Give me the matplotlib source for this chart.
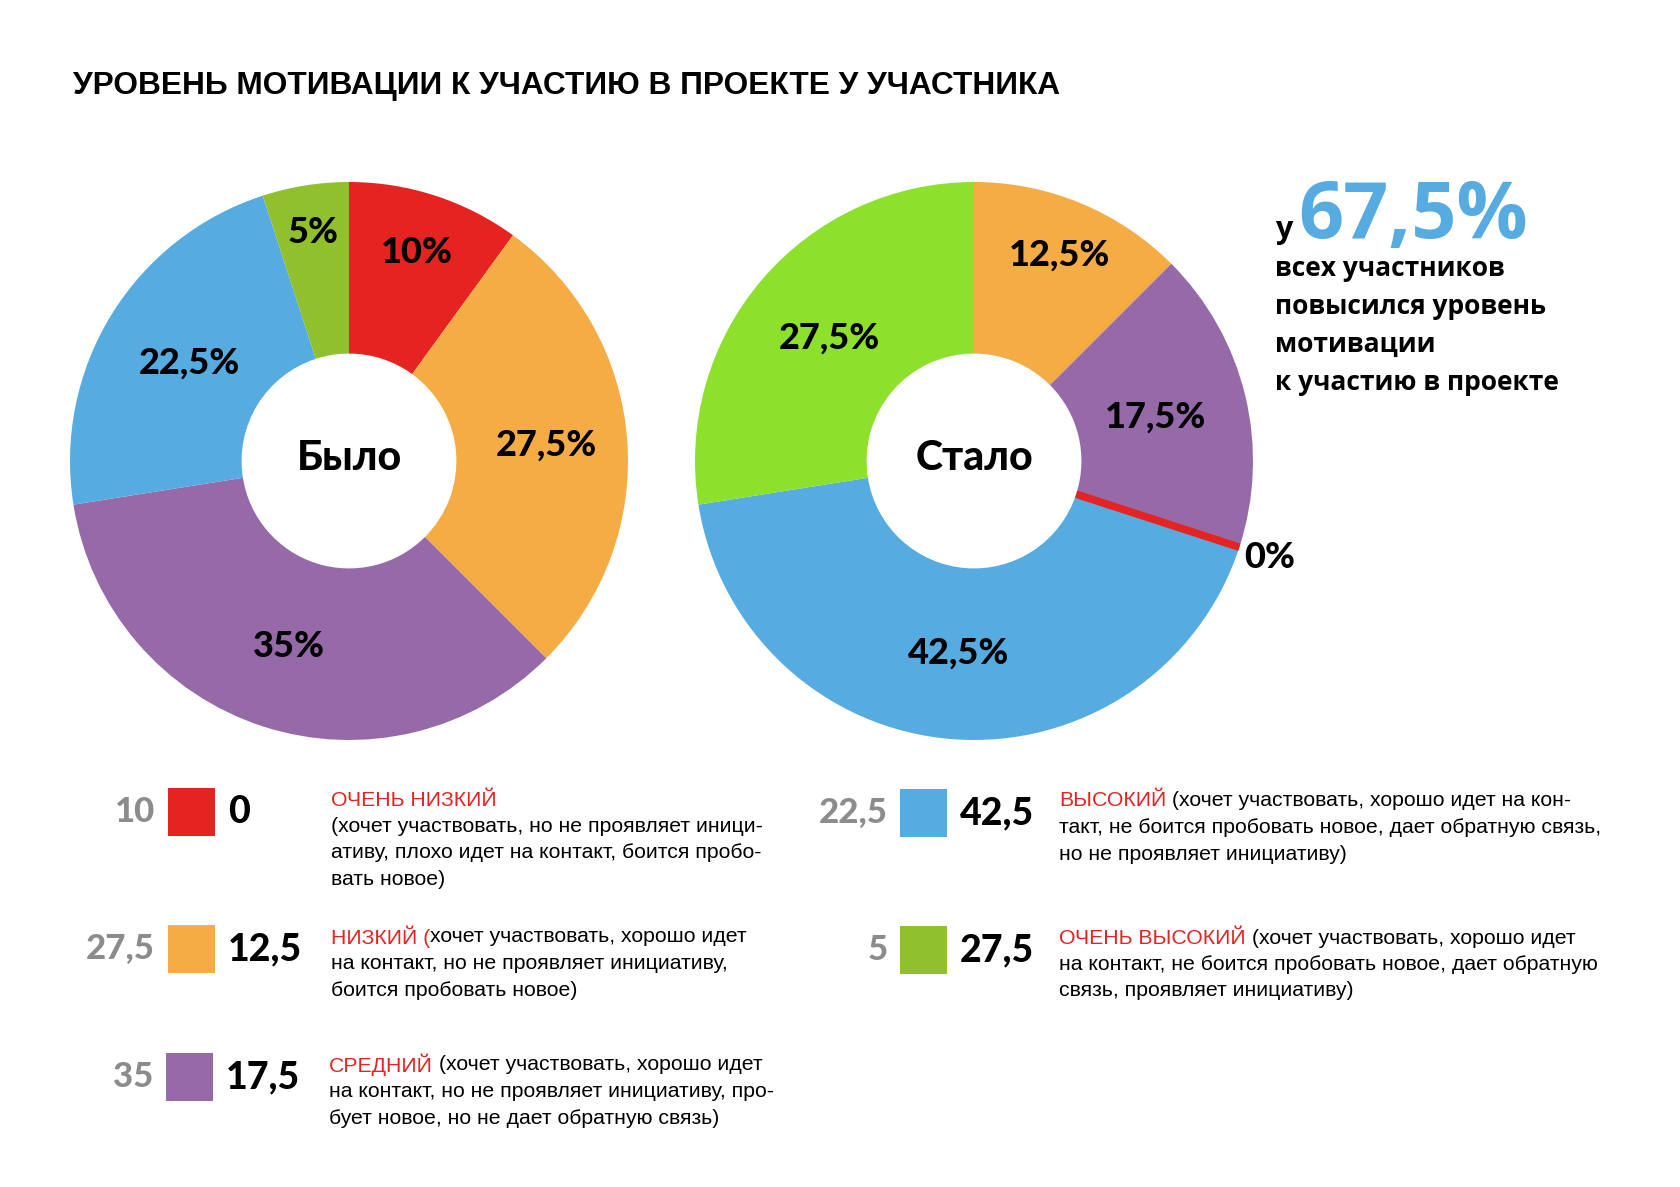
import matplotlib
matplotlib.use('Agg')
import matplotlib.pyplot as plt
from matplotlib import font_manager
from matplotlib.patches import Rectangle
import numpy as np

W, H = 1680, 1187

# --- data ---
levels = ['ОЧЕНЬ НИЗКИЙ', 'НИЗКИЙ', 'СРЕДНИЙ', 'ВЫСОКИЙ', 'ОЧЕНЬ ВЫСОКИЙ']
before = [10, 27.5, 35, 22.5, 5]
after = [0, 12.5, 17.5, 42.5, 27.5]
before_order = [0, 1, 2, 3, 4]
after_order = [1, 2, 0, 3, 4]
colors = ['#E52421', '#F6AC45', '#9669A9', '#56ACE0', '#90C02D']
after_colors = ['#E52421', '#F6AC45', '#9669A9', '#56ACE0', '#8DE02C']
grown = 67.5

heads = ['ОЧЕНЬ НИЗКИЙ', 'НИЗКИЙ (', 'СРЕДНИЙ', 'ВЫСОКИЙ', 'ОЧЕНЬ ВЫСОКИЙ']
first_tail = ['', 'хочет участвовать, хорошо идет',
              ' (хочет участвовать, хорошо идет',
              ' (хочет участвовать, хорошо идет на кон-',
              ' (хочет участвовать, хорошо идет']
more_lines = [
    ['(хочет участвовать, но не проявляет иници-',
     'ативу, плохо идет на контакт, боится пробо-',
     'вать новое)'],
    ['на контакт, но не проявляет инициативу,',
     'боится пробовать новое)'],
    ['на контакт, но не проявляет инициативу, про-',
     'бует новое, но не дает обратную связь)'],
    ['такт, не боится пробовать новое, дает обратную связь,',
     'но не проявляет инициативу)'],
    ['на контакт, не боится пробовать новое, дает обратную',
     'связь, проявляет инициативу)'],
]

names = {f.name for f in font_manager.fontManager.ttflist}
NARROW = 'Liberation Sans Narrow' if 'Liberation Sans Narrow' in names else 'Liberation Sans'
HEAVY = 'Lato' if 'Lato' in names else 'DejaVu Sans'
SANS = 'Open Sans' if 'Open Sans' in names else 'DejaVu Sans'
TITLE_FS = 28 if NARROW == 'Liberation Sans Narrow' else 22.8
DESC_FS = 16 if NARROW == 'Liberation Sans Narrow' else 15.3

def fmt(v):
    return ('%g' % v).replace('.', ',')

fig = plt.figure(figsize=(W / 100, H / 100), dpi=100)
bg = fig.add_axes([0, 0, 1, 1])
bg.set_xlim(0, W); bg.set_ylim(H, 0); bg.axis('off')

bg.text(73, 86, 'УРОВЕНЬ МОТИВАЦИИ К УЧАСТИЮ В ПРОЕКТЕ У УЧАСТНИКА',
        family=NARROW, weight='bold', fontsize=TITLE_FS, va='center', ha='left')

R_IN = 0.385

def donut(cx, cy, rad, vals, order, cols, label_r, center_txt):
    ax = fig.add_axes([(cx - rad) / W, 1 - (cy + rad) / H, 2 * rad / W, 2 * rad / H])
    v = [vals[i] for i in order]
    c = [cols[i] for i in order]
    ax.pie(v, colors=c, startangle=90, counterclock=False, radius=1,
           wedgeprops=dict(width=1 - R_IN, edgecolor='none'))
    ax.set_xlim(-1, 1); ax.set_ylim(-1, 1); ax.set_aspect('equal'); ax.axis('off')
    start = np.cumsum([0] + v[:-1]) / 100 * 360
    for k, val in enumerate(v):
        a0 = start[k]
        if val == 0:
            # zero share: just a red stroke on the ring plus an outside label
            th = np.deg2rad(90 - a0)
            ax.plot([R_IN * np.cos(th), np.cos(th)], [R_IN * np.sin(th), np.sin(th)],
                    color=c[k], lw=5.5, solid_capstyle='butt')
            ax.text(1.02 * np.cos(th), 1.02 * np.sin(th) - 0.03, fmt(val) + '%',
                    family=HEAVY, weight='black', fontsize=26, ha='left', va='center')
            continue
        th = np.deg2rad(90 - (a0 + val / 100 * 180))
        r = label_r[k]
        ax.text(r * np.cos(th), r * np.sin(th), fmt(val) + '%', family=HEAVY,
                weight='black', fontsize=26, ha='center', va='center')
    ax.text(0, 0.01, center_txt, family=HEAVY, weight='black', fontsize=29.5,
            ha='center', va='center')
    return ax

donut(349, 461, 279, before, before_order, colors, [0.785, 0.71, 0.70, 0.67, 0.83], 'Было')
donut(974, 461, 279, after, after_order, after_colors, [0.80, 0.67, 0.7, 0.69, 0.68], 'Стало')

# side note
bg.text(1275, 238, 'у', family=SANS, weight='bold', fontsize=22, va='baseline', ha='left')
bg.text(1298, 238, fmt(grown) + '%', family=SANS, weight='bold', fontsize=57,
        color='#56ACE0', va='baseline', ha='left')
for k, line in enumerate(['всех участников', 'повысился уровень', 'мотивации',
                          'к участию в проекте']):
    bg.text(1275, 268 + 38 * k, line, family=SANS, weight='bold', fontsize=19,
            va='center', ha='left')

# legend
renderer = fig.canvas.get_renderer()
slots = [(155, 168, 228, 331, 812), (155, 168, 228, 331, 949), (153, 166, 226, 329, 1077),
         (888, 900, 960, 1059, 813), (888, 900, 960, 1059, 950)]
for i, (gx, sx, vx, tx, cy) in enumerate(slots):
    bg.text(gx, cy, fmt(before[i]), family=HEAVY, weight='black', fontsize=25,
            color='#8C8C8C', ha='right', va='center')
    bg.add_patch(Rectangle((sx, cy - 24), 47, 48, color=colors[i], lw=0))
    bg.text(vx, cy, fmt(after[i]), family=HEAVY, weight='black', fontsize=27,
            color='black', ha='left', va='center')
    ty = cy - 12
    t = bg.text(tx, ty, heads[i], family=NARROW, fontsize=DESC_FS, color='#E52421',
                ha='left', va='center')
    if first_tail[i]:
        bb = t.get_window_extent(renderer)
        bg.text(tx + bb.width, ty, first_tail[i], family=NARROW, fontsize=DESC_FS,
                color='black', ha='left', va='center')
    for k, line in enumerate(more_lines[i]):
        bg.text(tx, ty + 26.5 * (k + 1), line, family=NARROW, fontsize=DESC_FS,
                color='black', ha='left', va='center')

fig.savefig('out.png', dpi=100, facecolor='white')
